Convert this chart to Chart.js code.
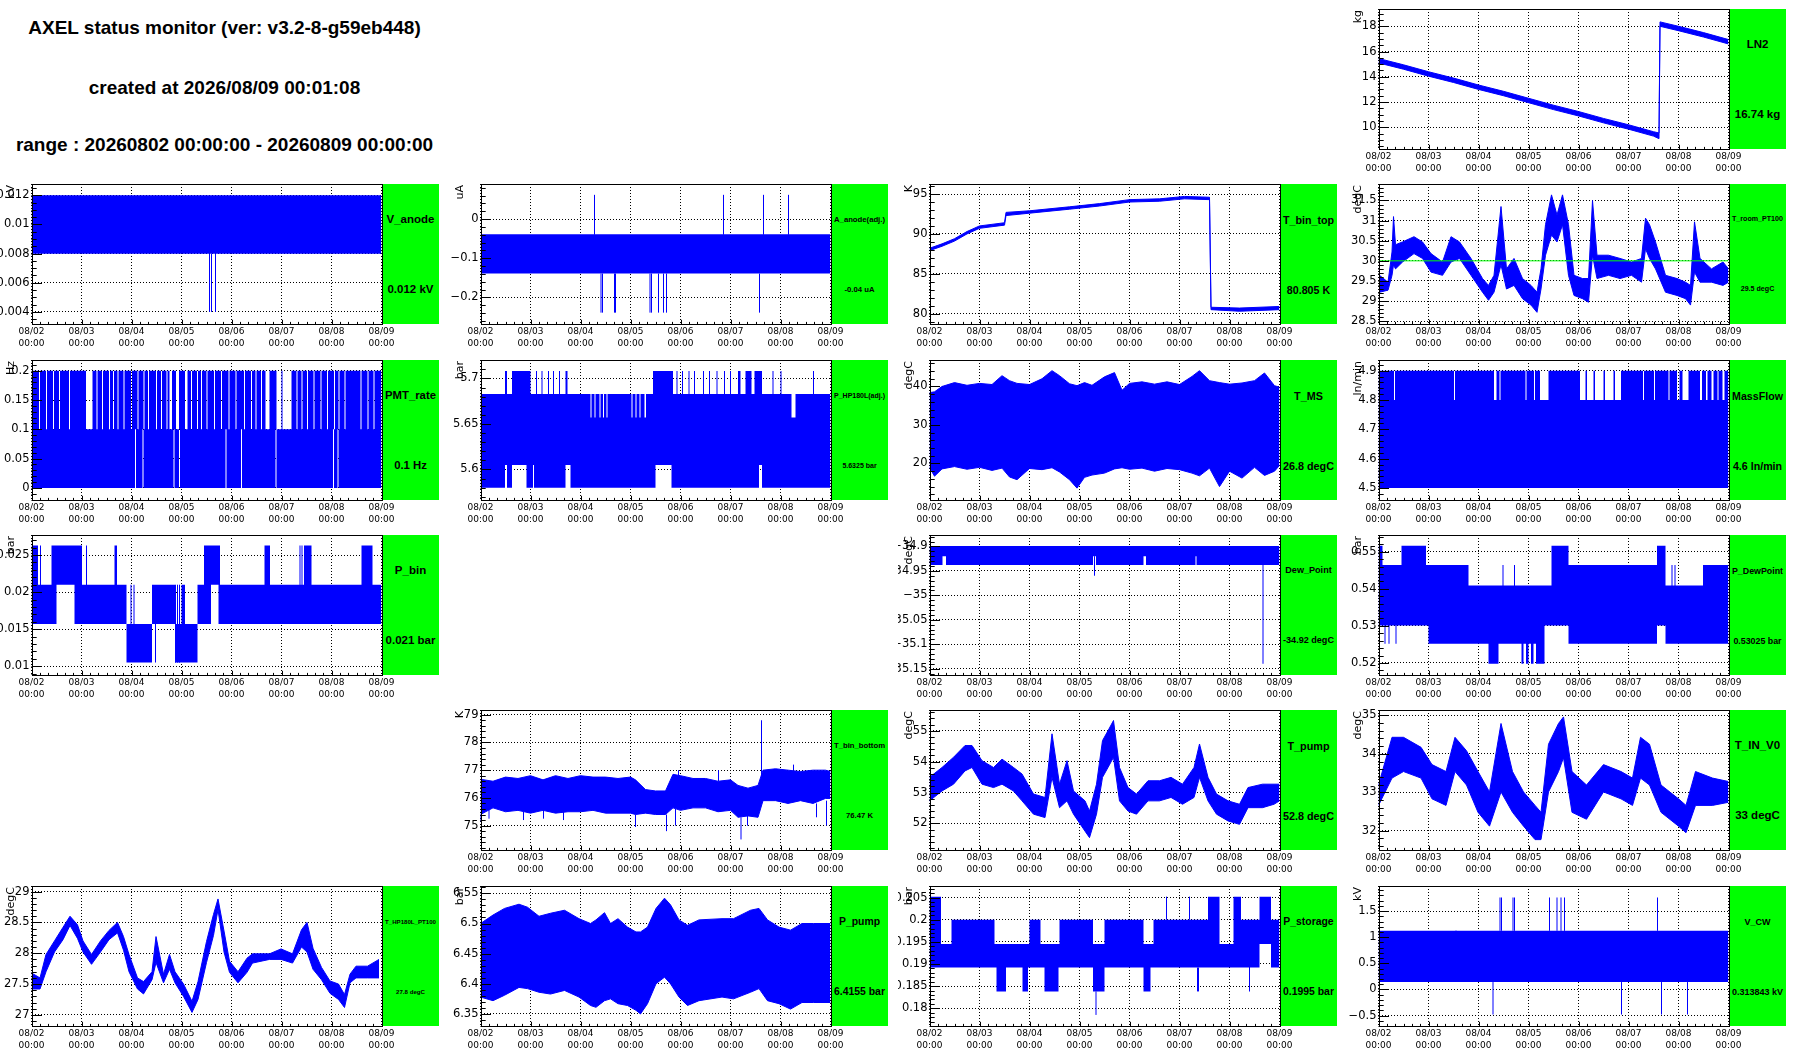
<!DOCTYPE html>
<html>
<head>
<meta charset="utf-8">
<title>AXEL status monitor</title>
<script src="https://cdn.jsdelivr.net/npm/chart.js@4.4.1/dist/chart.umd.min.js"></script>
<style>
  body { margin: 0; background: #fff; }
  #page { position: relative; width: 1796px; height: 1052px; overflow: hidden; background: #fff; }
  .pave { position: absolute; background: #00ff00; font-family: "Liberation Sans", Arial, sans-serif; font-weight: bold; color: #000; }
  .pave div { position: absolute; left: 0; right: 0; text-align: center; white-space: nowrap; line-height: 1; transform: translateY(-50%); }
  .head { position: absolute; left: 0; width: 449px; text-align: center; white-space: nowrap;
          font: bold 19px "Liberation Sans", Arial, sans-serif; transform: translateY(-50%); }
</style>
</head>
<body>
<div id="page">
  <div class="head" style="top:28px">AXEL status monitor (ver: v3.2-8-g59eb448)</div>
  <div class="head" style="top:87.5px">created at 2026/08/09 00:01:08</div>
  <div class="head" style="top:145px">range : 20260802 00:00:00 - 20260809 00:00:00</div>
</div>
<script>
// x is days since 08/02 00:00
const days = ["08/02", "08/03", "08/04", "08/05", "08/06", "08/07", "08/08", "08/09"];

// traces: [day, low edge, high edge]
const ln2 = [
  [0.00, 15.1, 15.45], [0.50, 14.6, 14.95], [1.00, 14.05, 14.4], [1.50, 13.55, 13.9],
  [2.00, 13.0, 13.35], [2.50, 12.5, 12.85], [3.00, 11.95, 12.3], [3.50, 11.4, 11.75],
  [4.00, 10.9, 11.25], [4.50, 10.35, 10.7], [5.00, 9.85, 10.2], [5.50, 9.3, 9.65],
  [5.61, 9.1, 9.55], [5.63, 18.0, 18.35], [6.00, 17.65, 18.0], [6.50, 17.15, 17.5], [7.00, 16.6, 16.95]
];
const vAnode = [[0, 0.008, 0.012], [7, 0.008, 0.012]];
const vAnodeSpikes = [[3.56, 0.004, 0.008], [3.60, 0.004, 0.008], [3.68, 0.004, 0.008]];
const aAnode = [[0, -0.139, -0.0385], [7, -0.139, -0.0385]];
const aAnodeSpikes = [
  [2.28, -0.04, 0.062], [4.86, -0.04, 0.062], [5.66, -0.04, 0.062], [6.16, -0.04, 0.062],
  [2.41, -0.239, -0.139], [2.44, -0.239, -0.139], [2.68, -0.239, -0.139], [2.70, -0.239, -0.139],
  [3.39, -0.239, -0.139], [3.42, -0.239, -0.139], [3.56, -0.239, -0.139], [3.66, -0.239, -0.139],
  [3.72, -0.239, -0.139], [5.58, -0.239, -0.139]
];
const tBinTop = [
  [0.00, 87.9, 88.2], [0.25, 88.45, 88.75], [0.50, 89.1, 89.4], [0.75, 90.0, 90.3], [1.00, 90.7, 91.0],
  [1.50, 91.1, 91.4], [1.53, 92.3, 92.7], [2.00, 92.6, 92.9], [2.80, 93.1, 93.4],
  [3.40, 93.5, 93.8], [4.00, 94.0, 94.3], [4.60, 94.1, 94.4], [5.10, 94.4, 94.7],
  [5.60, 94.3, 94.6], [5.63, 80.5, 80.8], [6.20, 80.3, 80.7], [7.00, 80.5, 80.9]
];
const tRoom = [
  [0.02, 29.22, 29.64], [0.19, 29.27, 29.47], [0.27, 29.64, 30.22], [0.30, 29.9, 31.1], [0.34, 29.8, 30.4],
  [0.48, 29.97, 30.47], [0.71, 30.18, 30.6], [0.88, 30.06, 30.47], [1.05, 29.72, 30.18],
  [1.28, 29.64, 29.97], [1.45, 29.97, 30.6], [1.62, 30.06, 30.47], [1.85, 29.64, 30.06],
  [2.08, 29.22, 29.56], [2.20, 29.02, 29.39], [2.31, 29.22, 29.64], [2.45, 29.9, 31.35],
  [2.56, 29.3, 29.8], [2.71, 29.39, 30.06], [2.88, 29.06, 29.56], [3.05, 28.9, 29.39],
  [3.17, 28.72, 29.22], [3.25, 29.3, 29.8], [3.34, 30.14, 30.9], [3.46, 30.64, 31.64],
  [3.57, 30.47, 31.14], [3.68, 30.9, 31.64], [3.80, 29.64, 30.9], [3.91, 29.14, 29.64],
  [4.08, 29.06, 29.56], [4.20, 28.97, 29.56], [4.28, 30.14, 31.5], [4.37, 29.56, 30.14],
  [4.60, 29.64, 30.14], [4.83, 29.56, 30.06], [5.06, 29.64, 29.97], [5.26, 29.47, 30.06],
  [5.34, 30.3, 31.06], [5.42, 30.06, 30.9], [5.54, 29.8, 30.47], [5.74, 29.22, 29.64],
  [5.97, 29.14, 29.56], [6.14, 29.06, 29.47], [6.24, 28.9, 29.39], [6.32, 29.72, 30.97],
  [6.43, 29.47, 30.06], [6.66, 29.47, 29.8], [6.89, 29.39, 29.97], [7.00, 29.47, 29.8]
];
const tRoomLimit = 30;
const pmtRate = [
  [0, 0, 0.2], [0.15, 0, 0.1], [0.17, 0, 0.2], [0.29, 0, 0.1], [0.31, 0, 0.2], [0.43, 0, 0.1], [0.45, 0, 0.2],
  [0.55, 0, 0.1], [0.57, 0, 0.2], [0.75, 0, 0.1], [0.77, 0, 0.2], [1.09, 0, 0.1], [1.22, 0, 0.2],
  [1.30, 0, 0.1], [1.32, 0, 0.2], [1.41, 0, 0.1], [1.43, 0, 0.2], [1.55, 0, 0.1], [1.57, 0, 0.2],
  [1.63, 0, 0.1], [1.65, 0, 0.2], [1.72, 0, 0.1], [1.74, 0, 0.2], [1.84, 0, 0.1], [1.86, 0, 0.2],
  [1.99, 0, 0.1], [2.01, 0, 0.2], [2.07, 0.1, 0.2], [2.09, 0, 0.2], [2.12, 0, 0.1], [2.14, 0, 0.2],
  [2.22, 0.1, 0.2], [2.24, 0, 0.1], [2.26, 0, 0.2], [2.33, 0, 0.1], [2.35, 0, 0.2], [2.49, 0, 0.1], [2.51, 0, 0.2],
  [2.59, 0, 0.1], [2.61, 0, 0.2], [2.70, 0, 0.1], [2.72, 0, 0.2], [2.76, 0, 0.1], [2.81, 0, 0.2],
  [2.84, 0.1, 0.2], [2.86, 0, 0.2], [2.89, 0, 0.1], [2.95, 0.1, 0.2], [2.97, 0, 0.2],
  [3.07, 0, 0.1], [3.12, 0, 0.2], [3.19, 0, 0.1], [3.21, 0, 0.2], [3.31, 0, 0.1], [3.33, 0, 0.2],
  [3.39, 0, 0.1], [3.41, 0, 0.2], [3.50, 0, 0.1], [3.52, 0, 0.2], [3.65, 0, 0.1], [3.67, 0, 0.2],
  [3.79, 0, 0.1], [3.81, 0, 0.2], [3.88, 0.1, 0.2], [3.90, 0, 0.2], [3.94, 0, 0.1], [3.96, 0, 0.2],
  [4.08, 0, 0.1], [4.10, 0, 0.2], [4.19, 0.1, 0.2], [4.21, 0, 0.2], [4.25, 0, 0.1], [4.27, 0, 0.2],
  [4.39, 0, 0.1], [4.41, 0, 0.2], [4.48, 0, 0.1], [4.50, 0, 0.2], [4.59, 0, 0.1], [4.61, 0, 0.2],
  [4.68, 0, 0.1], [4.76, 0, 0.2], [4.88, 0.1, 0.2], [4.90, 0, 0.1], [5.00, 0, 0.2], [5.02, 0, 0.1], [5.20, 0, 0.2],
  [5.30, 0, 0.1], [5.32, 0, 0.2], [5.40, 0, 0.1], [5.42, 0, 0.2], [5.51, 0, 0.1], [5.53, 0, 0.2],
  [5.64, 0, 0.1], [5.66, 0, 0.2], [5.78, 0, 0.1], [5.80, 0, 0.2], [5.91, 0, 0.1], [5.93, 0, 0.2],
  [6.03, 0.1, 0.2], [6.05, 0, 0.1], [6.07, 0, 0.2], [6.12, 0.1, 0.2], [6.14, 0, 0.1], [6.16, 0, 0.2],
  [6.26, 0, 0.1], [6.28, 0, 0.2], [6.58, 0, 0.1], [6.60, 0, 0.2], [6.72, 0, 0.1], [6.74, 0, 0.2],
  [6.84, 0, 0.1], [6.86, 0, 0.2], [7, 0, 0.2]
];
const pHP180L = [
  [0, 5.58, 5.683], [0.49, 5.605, 5.708], [0.53, 5.58, 5.683], [0.63, 5.605, 5.708], [0.92, 5.58, 5.708],
  [1.00, 5.58, 5.683], [1.05, 5.605, 5.683], [1.07, 5.58, 5.683], [1.11, 5.58, 5.708], [1.13, 5.58, 5.683],
  [1.22, 5.58, 5.708], [1.24, 5.58, 5.683], [1.35, 5.58, 5.708], [1.37, 5.58, 5.683],
  [1.45, 5.58, 5.708], [1.47, 5.58, 5.683], [1.57, 5.58, 5.708], [1.59, 5.58, 5.683],
  [1.70, 5.605, 5.708], [1.74, 5.605, 5.683], [1.80, 5.58, 5.683],
  [2.20, 5.58, 5.657], [2.22, 5.58, 5.683], [2.28, 5.58, 5.657], [2.30, 5.58, 5.683],
  [2.38, 5.58, 5.657], [2.40, 5.58, 5.683], [2.45, 5.58, 5.657], [2.47, 5.58, 5.683],
  [2.52, 5.58, 5.657], [2.54, 5.58, 5.683], [3.02, 5.58, 5.657], [3.04, 5.58, 5.683],
  [3.10, 5.58, 5.657], [3.12, 5.58, 5.683], [3.18, 5.58, 5.657], [3.20, 5.58, 5.683],
  [3.28, 5.58, 5.657], [3.31, 5.58, 5.683], [3.45, 5.58, 5.708], [3.50, 5.605, 5.708],
  [3.82, 5.58, 5.708], [3.85, 5.58, 5.683], [3.92, 5.58, 5.708], [3.94, 5.58, 5.683],
  [4.03, 5.58, 5.708], [4.05, 5.58, 5.683], [4.16, 5.58, 5.708], [4.18, 5.58, 5.683],
  [4.27, 5.58, 5.708], [4.29, 5.58, 5.683], [4.45, 5.58, 5.708], [4.47, 5.58, 5.683],
  [4.57, 5.58, 5.708], [4.59, 5.58, 5.683], [4.72, 5.58, 5.708], [4.74, 5.58, 5.683],
  [4.87, 5.58, 5.708], [4.89, 5.58, 5.683], [4.99, 5.58, 5.708], [5.01, 5.58, 5.683],
  [5.15, 5.58, 5.708], [5.20, 5.58, 5.683], [5.30, 5.58, 5.708], [5.42, 5.58, 5.683],
  [5.48, 5.58, 5.708], [5.57, 5.605, 5.708], [5.63, 5.58, 5.683], [5.84, 5.58, 5.708], [5.86, 5.58, 5.683],
  [6.00, 5.58, 5.708], [6.02, 5.58, 5.683], [6.22, 5.58, 5.657], [6.30, 5.58, 5.683],
  [6.65, 5.58, 5.708], [6.67, 5.58, 5.683], [7, 5.58, 5.683]
];
const tMS = [
  [0.00, 19.0, 38.4], [0.10, 16.7, 38.6], [0.25, 18.6, 40.0], [0.50, 19.2, 41.0], [0.75, 18.5, 40.3],
  [1.00, 19.0, 40.8], [1.25, 18.2, 40.5], [1.45, 18.8, 42.8], [1.60, 16.5, 41.5], [1.75, 15.8, 40.8],
  [2.00, 18.7, 40.5], [2.25, 18.4, 42.0], [2.45, 18.9, 44.1], [2.60, 17.8, 42.8], [2.80, 15.8, 40.7],
  [2.95, 13.6, 40.2], [3.10, 16.4, 41.0], [3.25, 17.0, 40.3], [3.50, 17.5, 42.5], [3.70, 18.6, 43.6],
  [3.85, 18.9, 39.0], [4.00, 18.5, 40.8], [4.25, 18.8, 41.2], [4.50, 18.0, 40.6], [4.75, 18.7, 41.2],
  [5.00, 18.4, 40.5], [5.25, 17.5, 42.6], [5.40, 16.8, 44.1], [5.60, 18.8, 41.5], [5.80, 14.0, 41.0],
  [6.00, 18.0, 40.6], [6.25, 16.2, 40.9], [6.50, 19.0, 41.5], [6.70, 16.9, 43.5], [6.90, 18.0, 40.2],
  [7.00, 19.5, 39.8]
];
const massFlow = [
  [0, 4.5, 4.9], [0.31, 4.5, 4.8], [0.33, 4.5, 4.9], [1.51, 4.5, 4.8], [1.53, 4.5, 4.9],
  [2.31, 4.5, 4.8], [2.36, 4.5, 4.9], [2.42, 4.5, 4.8], [2.44, 4.5, 4.9], [2.94, 4.5, 4.8], [2.96, 4.5, 4.9],
  [3.11, 4.5, 4.8], [3.13, 4.5, 4.9], [3.23, 4.5, 4.8], [3.40, 4.5, 4.9], [4.03, 4.5, 4.8], [4.14, 4.5, 4.9],
  [4.17, 4.5, 4.8], [4.30, 4.5, 4.9], [4.33, 4.5, 4.8], [4.50, 4.5, 4.9], [4.53, 4.5, 4.8], [4.70, 4.5, 4.9],
  [4.73, 4.5, 4.8], [4.85, 4.5, 4.9], [5.29, 4.5, 4.8], [5.31, 4.5, 4.9], [5.51, 4.5, 4.8], [5.53, 4.5, 4.9],
  [5.80, 4.5, 4.8], [5.82, 4.5, 4.9], [5.97, 4.5, 4.8], [6.02, 4.5, 4.9], [6.08, 4.5, 4.8], [6.20, 4.5, 4.9],
  [6.43, 4.5, 4.8], [6.47, 4.5, 4.9], [6.55, 4.5, 4.8], [6.58, 4.5, 4.9], [6.66, 4.5, 4.8], [6.70, 4.5, 4.9],
  [6.78, 4.5, 4.8], [6.80, 4.5, 4.9], [6.88, 4.5, 4.8], [6.92, 4.5, 4.9], [7, 4.5, 4.9]
];
const pBin = [
  [0, 0.0157, 0.0263], [0.13, 0.0157, 0.021], [0.17, 0.0157, 0.0263], [0.19, 0.0157, 0.021],
  [0.40, 0.0157, 0.0263], [0.50, 0.021, 0.0263], [0.86, 0.0157, 0.0263], [1.01, 0.0157, 0.021],
  [1.09, 0.0157, 0.0263], [1.11, 0.0157, 0.021], [1.66, 0.0157, 0.0263], [1.71, 0.0157, 0.021],
  [1.90, 0.0105, 0.0157], [1.98, 0.0105, 0.021], [2.00, 0.0105, 0.0157], [2.04, 0.0105, 0.021],
  [2.06, 0.0105, 0.0157], [2.41, 0.0157, 0.021], [2.47, 0.0105, 0.021], [2.49, 0.0157, 0.021],
  [2.87, 0.0105, 0.0157], [3.00, 0.0105, 0.021], [3.07, 0.0105, 0.0157], [3.32, 0.0157, 0.021],
  [3.45, 0.0157, 0.0263], [3.59, 0.021, 0.0263], [3.74, 0.0157, 0.0263], [3.77, 0.0157, 0.021],
  [4.66, 0.0157, 0.0263], [4.77, 0.0157, 0.021], [5.36, 0.0157, 0.0263], [5.38, 0.0157, 0.021],
  [5.40, 0.0157, 0.0263], [5.42, 0.0157, 0.021], [5.45, 0.0157, 0.0263], [5.60, 0.0157, 0.021],
  [6.60, 0.0157, 0.0263], [6.82, 0.0157, 0.021], [7, 0.0157, 0.021]
];
const pBinSpikes = [[2.88, 0.0105, 0.021], [2.92, 0.0105, 0.021], [2.96, 0.0105, 0.021]];
const dewPoint = [
  [0, -34.938, -34.899], [0.26, -34.92, -34.899], [0.33, -34.938, -34.899], [3.27, -34.92, -34.899],
  [3.33, -34.938, -34.899], [4.28, -34.92, -34.899], [4.33, -34.938, -34.899], [5.32, -34.92, -34.899],
  [5.34, -34.938, -34.899], [7, -34.938, -34.899]
];
const dewPointSpikes = [[3.30, -34.96, -34.92], [6.67, -35.14, -34.938]];
const pDewPoint = [
  [0, 0.5301, 0.5516], [0.08, 0.5301, 0.5464], [0.12, 0.5252, 0.5464], [0.14, 0.5301, 0.5464],
  [0.20, 0.5252, 0.5464], [0.22, 0.5301, 0.5464], [0.34, 0.5252, 0.5464], [0.36, 0.5301, 0.5464],
  [0.46, 0.5301, 0.5516], [0.95, 0.5301, 0.5464], [1.00, 0.5252, 0.5464], [1.80, 0.5252, 0.5409],
  [2.20, 0.5198, 0.5409], [2.40, 0.5252, 0.5409], [2.48, 0.5252, 0.5464], [2.50, 0.5252, 0.5409],
  [2.71, 0.5252, 0.5464], [2.73, 0.5252, 0.5409], [2.86, 0.5198, 0.5409], [2.90, 0.5252, 0.5409],
  [2.95, 0.5198, 0.5409], [3.00, 0.5252, 0.5409], [3.05, 0.5198, 0.5409], [3.10, 0.5252, 0.5409],
  [3.15, 0.5198, 0.5409], [3.32, 0.5301, 0.5409], [3.46, 0.5301, 0.5516], [3.80, 0.5252, 0.5464],
  [5.57, 0.5301, 0.5516], [5.74, 0.5252, 0.5409], [5.86, 0.5252, 0.5464], [5.88, 0.5252, 0.5409],
  [5.92, 0.5252, 0.5464], [5.94, 0.5252, 0.5409], [6.49, 0.5252, 0.5464], [7, 0.5252, 0.5464]
];
const tBinBottom = [
  [0.00, 75.4, 76.67], [0.25, 75.64, 76.6], [0.50, 75.5, 76.75], [0.75, 75.55, 76.7], [1.00, 75.45, 76.8],
  [1.25, 75.55, 76.65], [1.50, 75.45, 76.8], [1.75, 75.5, 76.7], [2.00, 75.5, 76.8], [2.25, 75.55, 76.75],
  [2.50, 75.45, 76.75], [2.75, 75.45, 76.7], [3.00, 75.45, 76.75], [3.10, 75.4, 76.65], [3.30, 75.45, 76.3],
  [3.50, 75.4, 76.25], [3.70, 75.4, 76.25], [3.85, 75.64, 76.85], [4.00, 75.55, 76.8], [4.25, 75.64, 76.7],
  [4.50, 75.64, 76.7], [4.75, 75.5, 76.6], [5.00, 75.55, 76.65], [5.15, 75.3, 76.45], [5.35, 75.35, 76.35],
  [5.55, 75.3, 76.45], [5.65, 75.9, 77.0], [5.90, 75.9, 77.05], [6.15, 75.8, 77.0], [6.40, 75.9, 76.95],
  [6.65, 75.8, 77.0], [6.90, 75.98, 77.0], [7.00, 75.98, 76.95]
];
const tBinBottomSpikes = [
  [0.00, 75.15, 75.4], [0.17, 75.25, 75.6], [0.86, 75.2, 75.5], [1.26, 75.25, 75.6], [1.66, 75.2, 75.5],
  [3.10, 74.95, 75.4], [3.72, 74.8, 75.4], [3.90, 75.0, 75.6], [5.21, 74.5, 75.3], [5.34, 75.0, 75.35],
  [6.72, 75.3, 75.8], [6.92, 75.0, 75.9], [3.96, 76.8, 77.0], [4.76, 76.6, 77.0], [6.26, 77.0, 77.2],
  [5.62, 76.5, 78.8]
];
const tPump = [
  [0.00, 52.73, 53.49], [0.25, 53.05, 53.81], [0.48, 53.27, 54.14], [0.71, 53.7, 54.52], [0.85, 53.81, 54.52],
  [1.05, 53.27, 54.03], [1.28, 53.16, 53.81], [1.45, 53.27, 54.08], [1.68, 53.05, 53.81], [1.85, 52.73, 53.6],
  [2.08, 52.3, 52.95], [2.31, 52.19, 52.84], [2.45, 53.49, 54.9], [2.60, 52.51, 53.27], [2.75, 52.73, 54.03],
  [2.88, 52.3, 53.05], [3.11, 51.75, 52.73], [3.20, 51.54, 52.4], [3.34, 52.3, 53.27], [3.46, 53.49, 54.68],
  [3.57, 53.81, 55.0], [3.68, 54.14, 55.33], [3.80, 52.73, 53.81], [3.97, 52.4, 53.16], [4.14, 52.3, 52.95],
  [4.37, 52.73, 53.38], [4.60, 52.73, 53.38], [4.83, 52.84, 53.49], [5.06, 52.62, 53.27], [5.29, 52.84, 53.81],
  [5.40, 53.49, 54.57], [5.57, 52.73, 53.49], [5.74, 52.3, 52.95], [5.97, 52.08, 52.73], [6.20, 51.97, 52.62],
  [6.37, 52.51, 53.16], [6.66, 52.51, 53.27], [6.89, 52.62, 53.27], [7.00, 52.73, 53.27]
];
const tInV0 = [
  [0.00, 32.66, 33.19], [0.27, 33.37, 34.43], [0.50, 33.54, 34.43], [0.85, 33.37, 34.17], [1.07, 32.83, 33.72],
  [1.35, 32.66, 33.54], [1.53, 33.54, 34.43], [1.76, 33.19, 34.08], [1.99, 32.48, 33.54], [2.22, 32.12, 33.01],
  [2.45, 33.01, 34.79], [2.68, 32.48, 33.54], [2.90, 32.12, 33.01], [3.13, 31.77, 32.66], [3.25, 31.77, 32.48],
  [3.40, 33.01, 34.25], [3.60, 33.54, 34.79], [3.70, 33.9, 34.96], [3.87, 32.48, 33.54], [4.16, 32.3, 33.19],
  [4.50, 33.01, 33.72], [4.85, 32.83, 33.54], [5.08, 32.66, 33.37], [5.24, 33.37, 34.43], [5.42, 33.19, 34.25],
  [5.65, 32.48, 33.19], [6.00, 32.12, 32.83], [6.15, 31.95, 32.66], [6.34, 32.66, 33.54], [6.68, 32.66, 33.37],
  [7.00, 32.74, 33.28]
];
const tHP180L = [
  [0.00, 27.42, 27.68], [0.17, 27.42, 27.6], [0.29, 27.7, 27.98], [0.46, 28.02, 28.2], [0.63, 28.22, 28.42],
  [0.77, 28.45, 28.6], [0.92, 28.24, 28.46], [1.03, 28.02, 28.2], [1.20, 27.82, 27.98], [1.38, 28.02, 28.2],
  [1.55, 28.22, 28.37], [1.72, 28.33, 28.5], [1.84, 28.05, 28.27], [1.95, 27.7, 27.98], [2.12, 27.42, 27.6],
  [2.24, 27.34, 27.54], [2.41, 27.57, 27.7], [2.49, 27.85, 28.27], [2.64, 27.52, 27.66], [2.76, 27.74, 27.98],
  [2.87, 27.52, 27.7], [3.04, 27.3, 27.5], [3.21, 27.04, 27.22], [3.33, 27.25, 27.54], [3.50, 27.85, 28.19],
  [3.64, 28.29, 28.63], [3.73, 28.71, 28.88], [3.85, 28.02, 28.36], [3.96, 27.69, 27.87], [4.13, 27.52, 27.7],
  [4.31, 27.69, 27.92], [4.42, 27.84, 27.99], [4.76, 27.9, 27.99], [4.99, 27.9, 28.07], [5.22, 27.84, 27.99],
  [5.40, 28.1, 28.38], [5.51, 28.02, 28.5], [5.63, 27.74, 28.08], [5.80, 27.57, 27.77], [5.97, 27.35, 27.55],
  [6.14, 27.25, 27.5], [6.26, 27.12, 27.33], [6.37, 27.52, 27.66], [6.49, 27.6, 27.79], [6.72, 27.6, 27.79],
  [6.95, 27.6, 27.9]
];
const pPump = [
  [0.00, 6.378, 6.5], [0.25, 6.372, 6.514], [0.48, 6.381, 6.525], [0.77, 6.394, 6.532], [0.94, 6.392, 6.527],
  [1.17, 6.386, 6.512], [1.40, 6.383, 6.517], [1.68, 6.389, 6.522], [1.97, 6.378, 6.508], [2.20, 6.364, 6.5],
  [2.31, 6.361, 6.506], [2.48, 6.372, 6.518], [2.60, 6.375, 6.5], [2.75, 6.367, 6.508], [2.94, 6.364, 6.494],
  [3.11, 6.356, 6.486], [3.20, 6.35, 6.486], [3.34, 6.367, 6.494], [3.51, 6.4, 6.525], [3.68, 6.411, 6.542],
  [3.80, 6.4, 6.531], [3.97, 6.378, 6.506], [4.14, 6.364, 6.497], [4.37, 6.372, 6.506], [4.83, 6.378, 6.508],
  [5.06, 6.375, 6.508], [5.40, 6.386, 6.522], [5.57, 6.392, 6.525], [5.74, 6.372, 6.506], [5.97, 6.367, 6.494],
  [6.20, 6.358, 6.489], [6.43, 6.369, 6.5], [6.66, 6.369, 6.5], [7.00, 6.369, 6.5]
];
const pStorage = [
  [0, 0.1892, 0.2052], [0.23, 0.1892, 0.1945], [0.44, 0.1892, 0.2], [1.30, 0.1892, 0.1945],
  [1.34, 0.1838, 0.1945], [1.53, 0.1892, 0.1945], [1.86, 0.1838, 0.1945], [1.97, 0.1892, 0.1945],
  [2.00, 0.1892, 0.2], [2.22, 0.1892, 0.1945], [2.30, 0.1838, 0.1945], [2.58, 0.1892, 0.1945],
  [2.60, 0.1892, 0.2], [3.27, 0.1838, 0.1945], [3.50, 0.1892, 0.2], [4.28, 0.1838, 0.1945],
  [4.42, 0.1892, 0.1945], [4.48, 0.1892, 0.2], [5.57, 0.1892, 0.2052], [5.80, 0.1892, 0.1945],
  [6.08, 0.1892, 0.2052], [6.23, 0.1892, 0.2], [6.39, 0.1838, 0.2], [6.41, 0.1892, 0.2],
  [6.60, 0.1945, 0.2052], [6.83, 0.1892, 0.2], [7, 0.1892, 0.2]
];
const pStorageSpikes = [[3.33, 0.1785, 0.1838], [4.74, 0.2, 0.2052], [5.20, 0.2, 0.2052], [5.36, 0.1838, 0.1892], [5.38, 0.1838, 0.1892]];
const vCW = [[0, 0.141, 1.122], [7, 0.141, 1.122]];
const vCWSpikes = [
  [2.43, 1.122, 1.76], [2.46, 1.122, 1.76], [2.69, 1.122, 1.76], [2.72, 1.122, 1.76], [3.42, 1.122, 1.76],
  [3.57, 1.122, 1.76], [3.65, 1.122, 1.76], [3.72, 1.122, 1.76], [5.58, 1.122, 1.76], [1.55, 1.122, 1.13],
  [2.29, -0.48, 0.141], [4.86, -0.48, 0.141], [5.66, -0.48, 0.141], [6.18, -0.48, 0.141]
];

const panels = [
  { name: "LN2", value: "16.74 kg", unit: "kg", col: 3, row: 0, min: 8.28, max: 19.37, step: 2, band: ln2 },
  { name: "V_anode", value: "0.012 kV", unit: "kV", col: 0, row: 1, min: 0.00317, max: 0.01278, step: 0.002, band: vAnode, spikes: vAnodeSpikes, stepped: true },
  { name: "A_anode(adj.)", value: "-0.04 uA", unit: "uA", col: 1, row: 1, min: -0.268, max: 0.0897, step: 0.1, band: aAnode, spikes: aAnodeSpikes, stepped: true },
  { name: "T_bin_top", value: "80.805 K", unit: "K", col: 2, row: 1, min: 78.7, max: 96.26, step: 5, band: tBinTop },
  { name: "T_room_PT100", value: "29.5 degC", unit: "degC", col: 3, row: 1, min: 28.43, max: 31.91, step: 0.5, band: tRoom, limit: tRoomLimit },
  { name: "PMT_rate", value: "0.1 Hz", unit: "Hz", col: 0, row: 2, min: -0.0206, max: 0.2183, step: 0.05, band: pmtRate, stepped: true },
  { name: "P_HP180L(adj.)", value: "5.6325 bar", unit: "bar", col: 1, row: 2, min: 5.5665, max: 5.7202, step: 0.05, band: pHP180L, stepped: true },
  { name: "T_MS", value: "26.8 degC", unit: "degC", col: 2, row: 2, min: 10.52, max: 46.87, step: 10, band: tMS },
  { name: "MassFlow", value: "4.6 ln/min", unit: "ln/min", col: 3, row: 2, min: 4.4589, max: 4.9366, step: 0.1, band: massFlow, stepped: true },
  { name: "P_bin", value: "0.021 bar", unit: "bar", col: 0, row: 3, min: 0.00883, max: 0.0277, step: 0.005, band: pBin, spikes: pBinSpikes, stepped: true },
  { name: "Dew_Point", value: "-34.92 degC", unit: "degC", col: 2, row: 3, min: -35.163, max: -34.8767, step: 0.05, band: dewPoint, spikes: dewPointSpikes, stepped: true },
  { name: "P_DewPoint", value: "0.53025 bar", unit: "bar", col: 3, row: 3, min: 0.51675, max: 0.5545, step: 0.01, band: pDewPoint, stepped: true },
  { name: "T_bin_bottom", value: "76.47 K", unit: "K", col: 1, row: 4, min: 74.12, max: 79.17, step: 1, band: tBinBottom, spikes: tBinBottomSpikes },
  { name: "T_pump", value: "52.8 degC", unit: "degC", col: 2, row: 4, min: 51.14, max: 55.67, step: 1, band: tPump },
  { name: "T_IN_V0", value: "33 degC", unit: "degC", col: 3, row: 4, min: 31.5, max: 35.14, step: 1, band: tInV0 },
  { name: "T_HP180L_PT100", value: "27.8 degC", unit: "degC", col: 0, row: 5, min: 26.82, max: 29.09, step: 0.5, band: tHP180L },
  { name: "P_pump", value: "6.4155 bar", unit: "bar", col: 1, row: 5, min: 6.33, max: 6.5622, step: 0.05, band: pPump },
  { name: "P_storage", value: "0.1995 bar", unit: "bar", col: 2, row: 5, min: 0.176, max: 0.2076, step: 0.005, band: pStorage, spikes: pStorageSpikes, stepped: true },
  { name: "V_CW", value: "0.313843 kV", unit: "kV", col: 3, row: 5, min: -0.70, max: 1.98, step: 0.5, band: vCW, spikes: vCWSpikes, stepped: true },
];

const BLUE = "#0000ff";
Chart.defaults.font.family = "'DejaVu Sans', sans-serif";
Chart.defaults.color = "#000";

function fmtTick(v) {
  return String(+v.toFixed(6)).replace("-", "\u2212");
}

function minorCount(step) {
  const m = step / Math.pow(10, Math.floor(Math.log10(step) + 1e-9));
  return Math.abs(m - 2) < 1e-6 ? 4 : 5;
}

// ROOT-like frame: inward ticks, minor ticks, frame box and axis title at the top
const rootAxes = {
  id: "rootAxes",
  afterDatasetsDraw(chart, args, opts) {
    const { ctx, chartArea: a } = chart;
    const xs = chart.scales.x, ys = chart.scales.y;
    const step = ys.options.ticks.stepSize;
    const sub = step / minorCount(step);
    ctx.save();
    ctx.strokeStyle = "#000";
    ctx.lineWidth = 1;
    ctx.beginPath();
    for (let k = Math.ceil(ys.min / sub - 1e-6); k * sub <= ys.max + 1e-9; k++) {
      const v = k * sub;
      const py = Math.round(ys.getPixelForValue(v)) + 0.5;
      const major = Math.abs(v / step - Math.round(v / step)) < 1e-6;
      ctx.moveTo(a.left, py);
      ctx.lineTo(a.left + (major ? 10.5 : 5.2), py);
    }
    for (let k = 0; k <= 42; k++) {
      const px = Math.round(xs.getPixelForValue(k / 6)) + 0.5;
      ctx.moveTo(px, a.bottom);
      ctx.lineTo(px, a.bottom - (k % 6 === 0 ? 4.2 : 2.1));
    }
    ctx.stroke();
    const l = Math.round(a.left), t = Math.round(a.top);
    ctx.strokeRect(l + 0.5, t + 0.5, Math.round(a.right) - l, Math.round(a.bottom) - t);
    ctx.translate(13.5, a.top + 1);
    ctx.rotate(-Math.PI / 2);
    ctx.font = "11px 'DejaVu Sans'";
    ctx.fillStyle = "#000";
    ctx.textAlign = "right";
    ctx.textBaseline = "alphabetic";
    ctx.fillText(opts.unit, 0, 0);
    ctx.restore();
  }
};

function bandSets(rows, stepped) {
  const edge = stepped ? "rgba(0,0,0,0)" : BLUE;
  return [
    { data: rows.map(r => ({ x: r[0], y: r[2] })), borderColor: edge, borderWidth: 1, pointRadius: 0, fill: false, stepped: !!stepped },
    { data: rows.map(r => ({ x: r[0], y: r[1] })), borderColor: edge, borderWidth: 1, pointRadius: 0, fill: "-1", backgroundColor: BLUE, stepped: !!stepped },
  ];
}

function spikeSet(spikes) {
  const pts = [];
  spikes.forEach(s => pts.push({ x: s[0], y: s[1] }, { x: s[0], y: s[2] }, { x: s[0], y: null }));
  return { data: pts, borderColor: BLUE, borderWidth: 1, pointRadius: 0, fill: false, spanGaps: false };
}

const meas = document.createElement("canvas").getContext("2d");
function paveFont(lines) {
  meas.font = "bold 11.5px 'Liberation Sans'";
  const w = Math.max(...lines.map(t => meas.measureText(t).width));
  return Math.min(11.5, 11.5 * 51 / w);
}

const page = document.getElementById("page");
panels.forEach(p => {
  const left = p.col * 449;
  const top = Math.round(p.row * 1052 / 6);

  const cv = document.createElement("canvas");
  cv.width = 449;
  cv.height = 176;
  cv.style.cssText = `position:absolute;left:${left}px;top:${top}px;width:449px;height:176px`;
  page.appendChild(cv);

  const box = document.createElement("div");
  box.className = "pave";
  box.style.cssText = `left:${left + 382.5}px;top:${top + 9}px;width:56px;height:140px;font-size:${paveFont([p.name, p.value]).toFixed(2)}px`;
  box.innerHTML = `<div style="top:35.5px">${p.name}</div><div style="top:105.5px">${p.value}</div>`;
  page.appendChild(box);

  const datasets = bandSets(p.band, p.stepped);
  if (p.spikes) datasets.push(spikeSet(p.spikes));
  if (p.limit !== undefined) {
    datasets.push({ data: [{ x: 0, y: p.limit }, { x: 7, y: p.limit }], borderColor: "#00ff00", borderWidth: 1, pointRadius: 0, fill: false, order: -1 });
  }

  new Chart(cv, {
    type: "line",
    data: { datasets },
    options: {
      responsive: false,
      animation: false,
      events: [],
      layout: { padding: { left: 0, top: 9, right: 67.5, bottom: 0 } },
      plugins: { legend: { display: false }, tooltip: { enabled: false }, rootAxes: { unit: p.unit } },
      scales: {
        x: {
          type: "linear", min: 0, max: 7,
          afterFit: s => { s.height = 27; },
          grid: { color: "#000", lineWidth: 1, drawTicks: false },
          border: { display: false, dash: [1, 2] },
          ticks: {
            stepSize: 1, padding: 1, maxRotation: 0, autoSkip: false,
            font: { size: 9, lineHeight: 1.37 },
            callback: v => [days[Math.round(v)], "00:00"]
          }
        },
        y: {
          type: "linear", min: p.min, max: p.max,
          afterFit: s => { s.width = 31.5; },
          grid: { color: "#000", lineWidth: 1, drawTicks: false },
          border: { display: false, dash: [1, 2] },
          ticks: { stepSize: p.step, includeBounds: false, autoSkip: false, padding: 2, font: { size: 11.5 }, callback: fmtTick }
        }
      }
    },
    plugins: [rootAxes]
  });
});
</script>
</body>
</html>
